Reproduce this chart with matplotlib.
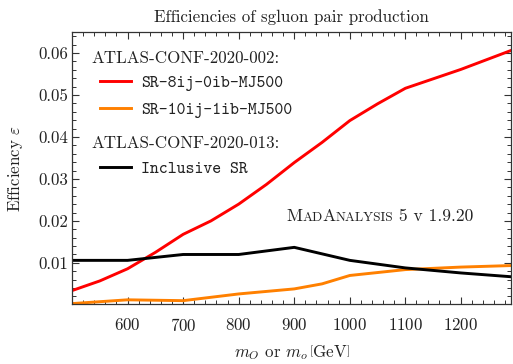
import matplotlib
matplotlib.use("Agg")
import matplotlib.pyplot as plt
from matplotlib.offsetbox import AnchoredOffsetbox, HPacker, TextArea
from matplotlib.ticker import MultipleLocator

plt.rcParams["font.family"] = "cmr10"
plt.rcParams["mathtext.fontset"] = "cm"
plt.rcParams["axes.formatter.use_mathtext"] = True

# sgluon mass points [GeV] and signal efficiencies
mass_8ij = [500, 550, 600, 650, 700, 750, 800, 850, 900, 950, 1000, 1050, 1100, 1200, 1300]
eff_8ij = [0.0034, 0.0057, 0.0086, 0.0125, 0.0168, 0.0200, 0.0240, 0.0287, 0.0339,
           0.0387, 0.0439, 0.0479, 0.0516, 0.0561, 0.0611]

mass_10ij = [500, 600, 700, 800, 900, 950, 1000, 1100, 1200, 1300]
eff_10ij = [0.0003, 0.0012, 0.0010, 0.0026, 0.0038, 0.0050, 0.0070, 0.0084, 0.0090, 0.0094]

mass_incl = [500, 600, 700, 800, 900, 1000, 1100, 1200, 1300]
eff_incl = [0.0106, 0.0106, 0.0120, 0.0120, 0.0137, 0.0106, 0.0088, 0.0076, 0.0066]

x_ticks = [600, 700, 800, 900, 1000, 1100, 1200]
y_ticks = [0.01, 0.02, 0.03, 0.04, 0.05, 0.06]
y_tick_labels = ["0.01", "0.02", "0.03", "0.04", "0.05", "0.06"]

FS = 12.2
TXT = "#222222"

fig = plt.figure(figsize=(5.13, 3.64), dpi=100)
ax = fig.add_axes([0.1404, 0.1648, 0.8556, 0.7472])

l_8ij, = ax.plot(mass_8ij, eff_8ij, color="#ff0000", lw=2.1, solid_joinstyle="round")
l_10ij, = ax.plot(mass_10ij, eff_10ij, color="#ff8000", lw=2.1, solid_joinstyle="round")
l_incl, = ax.plot(mass_incl, eff_incl, color="black", lw=2.1, solid_joinstyle="round")

ax.set_xlim(500, 1290)
ax.set_ylim(0.0002, 0.065)
ax.set_xticks(x_ticks)
ax.set_yticks(y_ticks)
ax.set_yticklabels(y_tick_labels)
ax.xaxis.set_minor_locator(MultipleLocator(20))
ax.yaxis.set_minor_locator(MultipleLocator(0.002))

for sp in ax.spines.values():
    sp.set_color("#333333")
    sp.set_linewidth(0.9)
ax.tick_params(which="both", direction="in", top=True, right=True,
               color="#333333", labelsize=FS, labelcolor=TXT)
ax.tick_params(which="major", length=5, width=0.8)
ax.tick_params(which="minor", length=2.6, width=0.7)
ax.tick_params(axis="x", pad=9)
ax.tick_params(axis="y", pad=3)

ax.set_title("Efficiencies of sgluon pair production", fontsize=FS, pad=7, color=TXT)
ax.set_xlabel(r"$m_O$ or $m_o\,\left[\mathrm{GeV}\right]$", fontsize=FS, labelpad=7, color=TXT)
ax.set_ylabel(r"Efficiency $\varepsilon$", fontsize=FS, labelpad=9, color=TXT)

# legend: serif headers for each analysis, typewriter names for the regions
ax.text(0.045, 0.903, "ATLAS-CONF-2020-002:", transform=ax.transAxes,
        fontsize=FS, va="center", ha="left", color=TXT)
ax.text(0.045, 0.591, "ATLAS-CONF-2020-013:", transform=ax.transAxes,
        fontsize=FS, va="center", ha="left", color=TXT)

leg_kw = dict(frameon=False, borderpad=0, borderaxespad=0, handlelength=1.8,
              handletextpad=0.6, labelspacing=0.62,
              prop={"family": "cmtt10", "size": FS})
leg1 = ax.legend([l_8ij, l_10ij], ["SR-8ij-0ib-MJ500", "SR-10ij-1ib-MJ500"],
                 loc="center left", bbox_to_anchor=(0.0638, 0.7625), **leg_kw)
for t in leg1.get_texts():
    t.set_color(TXT)
ax.add_artist(leg1)
leg2 = ax.legend([l_incl], ["Inclusive SR"], loc="center left",
                 bbox_to_anchor=(0.0638, 0.497), **leg_kw)
for t in leg2.get_texts():
    t.set_color(TXT)

# version tag with small capitals
big, small = 12.6, 9.6
parts = [("M", big), ("AD", small), ("A", big), ("NALYSIS", small), (" 5 v 1.9.20", big)]
boxes = [TextArea(s, textprops=dict(fontsize=fs, color=TXT)) for s, fs in parts]
tag = AnchoredOffsetbox(loc="center", child=HPacker(children=boxes, align="baseline", pad=0, sep=0),
                        bbox_to_anchor=(0.7016, 0.3235), bbox_transform=ax.transAxes,
                        frameon=False, pad=0, borderpad=0)
ax.add_artist(tag)

fig.savefig("out.png", dpi=100)
